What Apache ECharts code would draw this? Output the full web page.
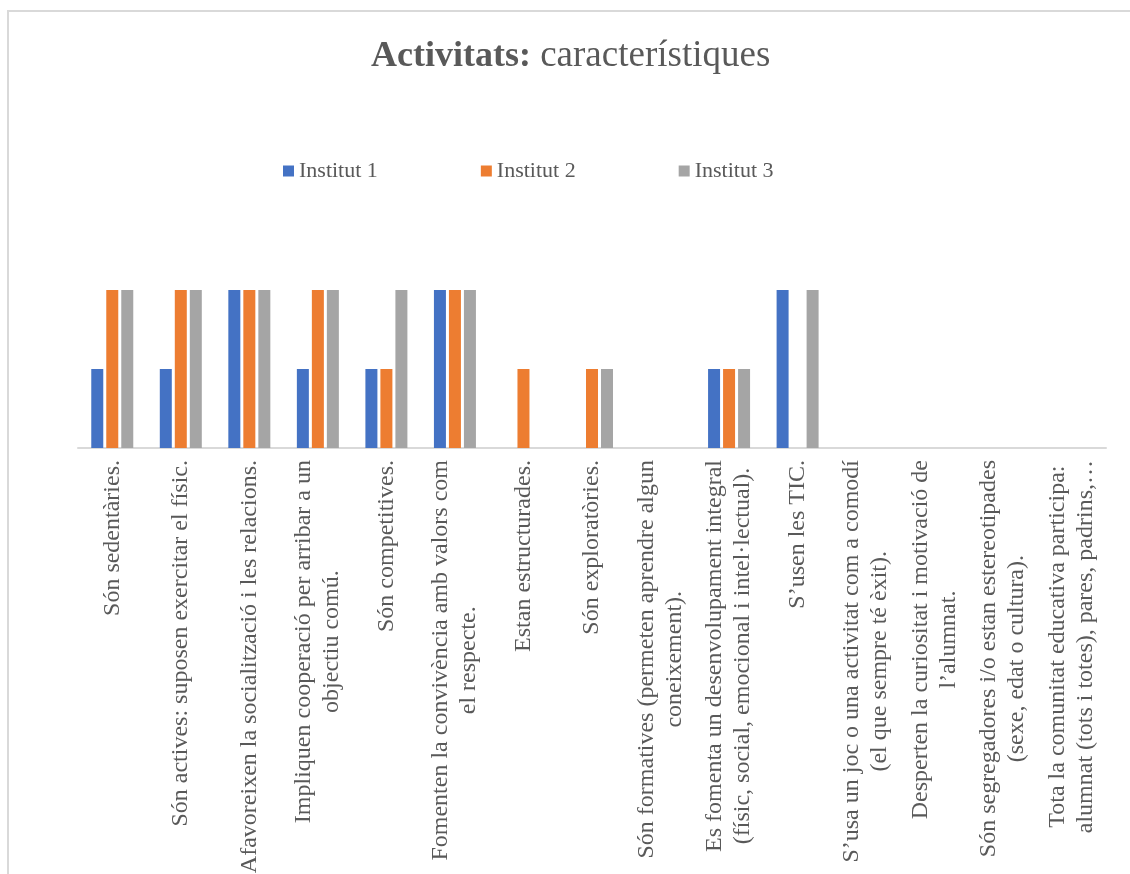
<!DOCTYPE html>
<html>
<head>
<meta charset="utf-8">
<script src="https://cdn.jsdelivr.net/npm/echarts@6/dist/echarts.min.js"></script>
<style>
  html, body { margin: 0; padding: 0; background: #fff; overflow: hidden; }
  #frame {
    position: absolute; left: 7px; top: 10px; width: 1200px; height: 900px;
    border-left: 2px solid #d9d9d9; border-top: 2px solid #d9d9d9;
  }
  #chart { position: absolute; left: 0; top: 0; width: 1130px; height: 874px; }
</style>
</head>
<body>
<div id="frame"></div>
<div id="chart"></div>
<script>
// categories (line breaks as in the original wrapped labels)
const categories = [
  'Són sedentàries.',
  'Són actives: suposen exercitar el físic.',
  'Afavoreixen la socialització i les relacions.',
  'Impliquen cooperació per arribar a un\nobjectiu comú.',
  'Són competitives.',
  'Fomenten la convivència amb valors com\nel respecte.',
  'Estan estructurades.',
  'Són exploratòries.',
  'Són formatives (permeten aprendre algun\nconeixement).',
  'Es fomenta un desenvolupament integral\n(físic, social, emocional i intel·lectual).',
  'S’usen les TIC.',
  'S’usa un joc o una activitat com a comodí\n(el que sempre té èxit).',
  'Desperten la curiositat i motivació de\nl’alumnat.',
  'Són segregadores i/o estan estereotipades\n(sexe, edat o cultura).',
  'Tota la comunitat educativa participa:\nalumnat (tots i totes), pares, padrins,…'
]
const seriesNames = ['Institut 1', 'Institut 2', 'Institut 3']
const institut1 = [1, 1, 2, 1, 1, 2, 0, 0, 0, 1, 2, 0, 0, 0, 0]
const institut2 = [2, 2, 2, 2, 1, 2, 1, 1, 0, 1, 0, 0, 0, 0, 0]
const institut3 = [2, 2, 2, 2, 2, 2, 0, 1, 0, 1, 2, 0, 0, 0, 0]
const colors = ['#4472C4', '#ED7D31', '#A5A5A5']

const serif = '"Liberation Serif", "Times New Roman", serif'
const textColor = '#595959'

const chart = echarts.init(document.getElementById('chart'))

const makeBar = (name, data, color) => ({
  name: name,
  type: 'bar',
  data: data,
  barWidth: 12,
  barGap: '25%',
  itemStyle: { color: color },
  animation: false,
})

chart.setOption({
  color: colors,
  title: {
    text: '{b|Activitats:}{r| característiques}',
    left: 371,
    top: 38,
    padding: 0,
    textStyle: {
      fontWeight: 'normal',
      rich: {
        b: { fontFamily: serif, fontSize: 36, fontWeight: 'bold', color: textColor },
        r: { fontFamily: serif, fontSize: 37, fontWeight: 'normal', color: textColor },
      },
    },
  },
  legend: {
    data: seriesNames,
    left: 283,
    top: 160,
    padding: 0,
    icon: 'rect',
    itemWidth: 11,
    itemHeight: 11,
    itemGap: 103,
    textStyle: { fontFamily: serif, fontSize: 22, color: textColor },
  },
  grid: {
    left: 78,
    right: 24,
    top: 290,
    bottom: 426,
    outerBoundsMode: 'none',
  },
  xAxis: {
    type: 'category',
    data: categories,
    axisLine: { lineStyle: { color: '#d9d9d9', width: 2 } },
    axisTick: { show: false },
    axisLabel: {
      interval: 0,
      rotate: 90,
      margin: 12,
      formatter: (v) => v.split('\n').map((l) => '{c|' + l + '}').join('\n'),
      rich: {
        c: { align: 'center', fontFamily: serif, fontSize: 24, color: textColor, lineHeight: 28 },
      },
    },
  },
  yAxis: {
    type: 'value',
    min: 0,
    max: 2,
    interval: 1,
    show: false,
  },
  series: [
    makeBar(seriesNames[0], institut1, colors[0]),
    makeBar(seriesNames[1], institut2, colors[1]),
    makeBar(seriesNames[2], institut3, colors[2]),
  ],
})
</script>
</body>
</html>
